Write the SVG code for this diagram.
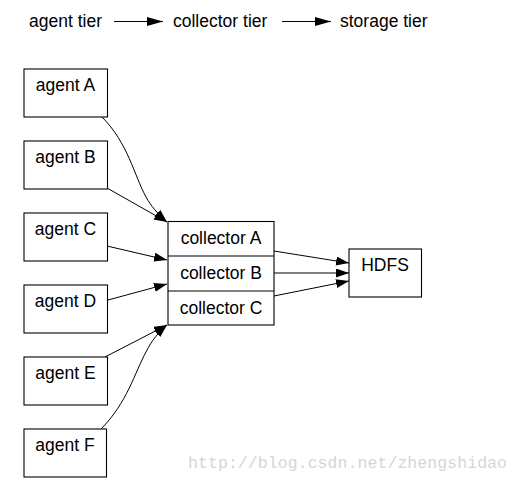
<svg xmlns="http://www.w3.org/2000/svg" width="519" height="484" viewBox="0 0 519 484">
<style>
.box{fill:#fff;stroke:#000;stroke-width:1.1}
.t{font-family:"Liberation Sans",Arial,sans-serif;font-size:17.5px;fill:#000}
.e{fill:none;stroke:#000;stroke-width:1}
.wm{font-family:"Liberation Mono","DejaVu Sans Mono",monospace;font-size:16.5px;fill:#d6d6d6}
</style>
<defs>
<marker id="ah" markerUnits="userSpaceOnUse" markerWidth="14" markerHeight="10" refX="13" refY="4.5" orient="auto">
<path d="M0,0 L13,4.5 L0,9 Z" fill="#000"/>
</marker>
<marker id="ah2" markerUnits="userSpaceOnUse" markerWidth="16" markerHeight="10" refX="16" refY="4.5" orient="auto">
<path d="M0,0 L16,4.5 L0,9 Z" fill="#000"/>
</marker>
</defs>
<g id="legend">
<text class="t" x="29" y="26.5">agent tier</text>
<line class="e" x1="114" y1="21.5" x2="163" y2="21.5" marker-end="url(#ah2)"/>
<text class="t" x="173" y="26.5">collector tier</text>
<line class="e" x1="282" y1="21.5" x2="331" y2="21.5" marker-end="url(#ah2)"/>
<text class="t" x="340" y="26.5">storage tier</text>
</g>
<g id="connectors">
<path class="e" d="M102,117 C128,143 134,175 146,197 C151,206 157,213 167,222" marker-end="url(#ah)"/>
<path class="e" d="M107,188 L167,222" marker-end="url(#ah)"/>
<path class="e" d="M107,246 L167,260" marker-end="url(#ah)"/>
<path class="e" d="M108,300 L167,284" marker-end="url(#ah)"/>
<path class="e" d="M105,357 L167,325" marker-end="url(#ah)"/>
<path class="e" d="M101,429 C127,403 135,372 146,352 C152,340 158,333 167,325" marker-end="url(#ah)"/>
<path class="e" d="M274,251 L349,263" marker-end="url(#ah)"/>
<path class="e" d="M274,273 L349,273" marker-end="url(#ah)"/>
<path class="e" d="M274,296 L349,281" marker-end="url(#ah)"/>
</g>
<g id="agentA"><rect class="box" x="24" y="69" width="83.5" height="48"/><text class="t" x="65.5" y="91" text-anchor="middle">agent A</text></g>
<g id="agentB"><rect class="box" x="24" y="141" width="83.5" height="48"/><text class="t" x="65.5" y="163" text-anchor="middle">agent B</text></g>
<g id="agentC"><rect class="box" x="24" y="213" width="83.5" height="48"/><text class="t" x="65.5" y="235" text-anchor="middle">agent C</text></g>
<g id="agentD"><rect class="box" x="24" y="285" width="83.5" height="48"/><text class="t" x="65.5" y="307" text-anchor="middle">agent D</text></g>
<g id="agentE"><rect class="box" x="24" y="357" width="83.5" height="48"/><text class="t" x="65.5" y="379" text-anchor="middle">agent E</text></g>
<g id="agentF"><rect class="box" x="24" y="429" width="82.5" height="48"/><text class="t" x="65" y="451" text-anchor="middle">agent F</text></g>
<g id="collectors">
<rect class="box" x="168" y="221.5" width="106" height="103.5"/>
<line x1="168" y1="256" x2="274" y2="256" stroke="#000" stroke-width="1.1"/>
<line x1="168" y1="291" x2="274" y2="291" stroke="#000" stroke-width="1.1"/>
<text class="t" x="221" y="244" text-anchor="middle">collector A</text>
<text class="t" x="221" y="279" text-anchor="middle">collector B</text>
<text class="t" x="221" y="314" text-anchor="middle">collector C</text>
</g>
<g id="hdfs"><rect class="box" x="349" y="249" width="72.5" height="48"/><text class="t" x="385" y="271" text-anchor="middle">HDFS</text></g>
<text class="wm" x="188" y="468" textLength="319">http://blog.csdn.net/zhengshidao</text>
</svg>
